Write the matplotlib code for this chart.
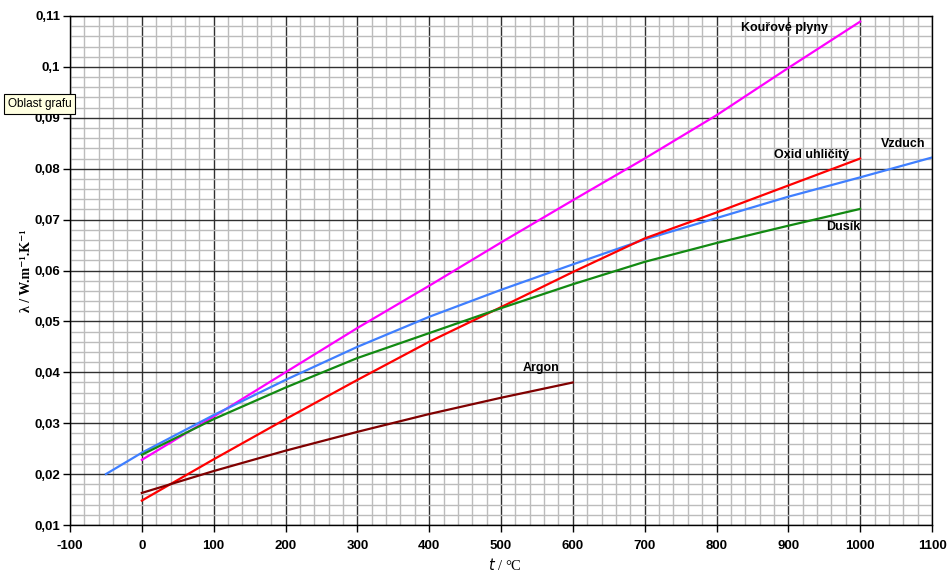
import numpy as np
import matplotlib
matplotlib.use("Agg")
import matplotlib.pyplot as plt
from matplotlib.ticker import MultipleLocator, FuncFormatter

# data: teplota t [°C] -> lambda [W/m/K]
t_kour = [0, 100, 200, 300, 400, 500, 600, 700, 800, 900, 1000]
lam_kour = [0.0228, 0.0313, 0.0400, 0.0487, 0.0570, 0.0655, 0.0738, 0.0820, 0.0905, 0.0998, 0.1089]

t_vzduch = [-50, 0, 100, 200, 300, 400, 500, 600, 700, 800, 900, 1000, 1100]
lam_vzduch = [0.0200, 0.0242, 0.0316, 0.0385, 0.0450, 0.0509, 0.0562, 0.0612, 0.0661, 0.0703, 0.0745, 0.0783, 0.0822]

t_co2 = [0, 100, 200, 300, 400, 500, 600, 700, 800, 900, 1000]
lam_co2 = [0.0148, 0.0229, 0.0308, 0.0385, 0.0460, 0.0528, 0.0597, 0.0663, 0.0714, 0.0767, 0.0820]

t_dusik = [0, 100, 200, 300, 400, 500, 600, 700, 800, 900, 1000]
lam_dusik = [0.0238, 0.0308, 0.0370, 0.0428, 0.0477, 0.0526, 0.0573, 0.0617, 0.0654, 0.0688, 0.0721]

t_argon = [0, 100, 200, 300, 400, 500, 600]
lam_argon = [0.0163, 0.0206, 0.0246, 0.0283, 0.0318, 0.0350, 0.0380]

x_ticks = [-100, 0, 100, 200, 300, 400, 500, 600, 700, 800, 900, 1000, 1100]

fig = plt.figure(figsize=(9.49, 5.79), dpi=100)
ax = fig.add_axes([70 / 949, 54 / 579, 862 / 949, 509 / 579])

# mrizka: hlavni cary tmave, vedlejsi sede
ax.xaxis.set_minor_locator(MultipleLocator(20))
ax.yaxis.set_minor_locator(MultipleLocator(0.002))
ax.grid(which='minor', color='#bcbcbc', linewidth=1.0)
ax.grid(which='major', color='#303030', linewidth=1.0)
ax.set_axisbelow(True)

ax.plot(t_kour, lam_kour, color='#ff00ff', lw=1.6)
ax.plot(t_vzduch, lam_vzduch, color='#3f7fff', lw=1.6)
ax.plot(t_co2, lam_co2, color='#ff0000', lw=1.6)
ax.plot(t_dusik, lam_dusik, color='#128a12', lw=1.6)
ax.plot(t_argon, lam_argon, color='#800000', lw=1.6)

lab = dict(fontsize=9, fontweight='bold', family='Liberation Sans', ha='center', va='center')
ax.text(895, 0.1076, 'Kouřové plyny', **lab)
ax.text(932, 0.0827, 'Oxid uhličitý', **lab)
ax.text(1060, 0.0848, 'Vzduch', **lab)
ax.text(977, 0.0685, 'Dusík', **lab)
ax.text(556, 0.0408, 'Argon', **lab)

ax.set_xlim(-100, 1100)
ax.set_ylim(0.01, 0.11)
ax.set_xticks(x_ticks)
ax.set_xticklabels([str(v) for v in x_ticks])
ax.yaxis.set_major_locator(MultipleLocator(0.01))
ax.yaxis.set_major_formatter(FuncFormatter(lambda v, p: f"{round(v, 3):g}".replace('.', ',')))
ax.tick_params(which='major', direction='out', length=5, width=1, labelsize=9.5)
ax.tick_params(axis='x', pad=6)
ax.tick_params(axis='y', pad=2)
ax.tick_params(which='minor', length=0)
for lbl in ax.get_xticklabels() + ax.get_yticklabels():
    lbl.set_fontweight('bold')
    lbl.set_family('Liberation Sans')

for s in ax.spines.values():
    s.set_color('black')
    s.set_linewidth(1.0)

ax.set_xlabel('$t$ / °C', fontsize=10.5, family='Liberation Serif')
ax.xaxis.set_label_coords(0.5046, -0.063)
ax.set_ylabel('λ / W.m⁻¹.K⁻¹', fontsize=10, fontweight='bold',
              family=['Liberation Serif', 'DejaVu Serif'])
ax.yaxis.set_label_coords(-0.043, 0.5)

# popisek z Excelu
fig.text(8 / 949, 1 - 104 / 579, 'Oblast grafu', fontsize=8.5, family='Liberation Sans',
         ha='left', va='center',
         bbox=dict(boxstyle='square,pad=0.3', facecolor='#ffffe1', edgecolor='black', linewidth=0.8))

fig.savefig('out.png', dpi=100)
